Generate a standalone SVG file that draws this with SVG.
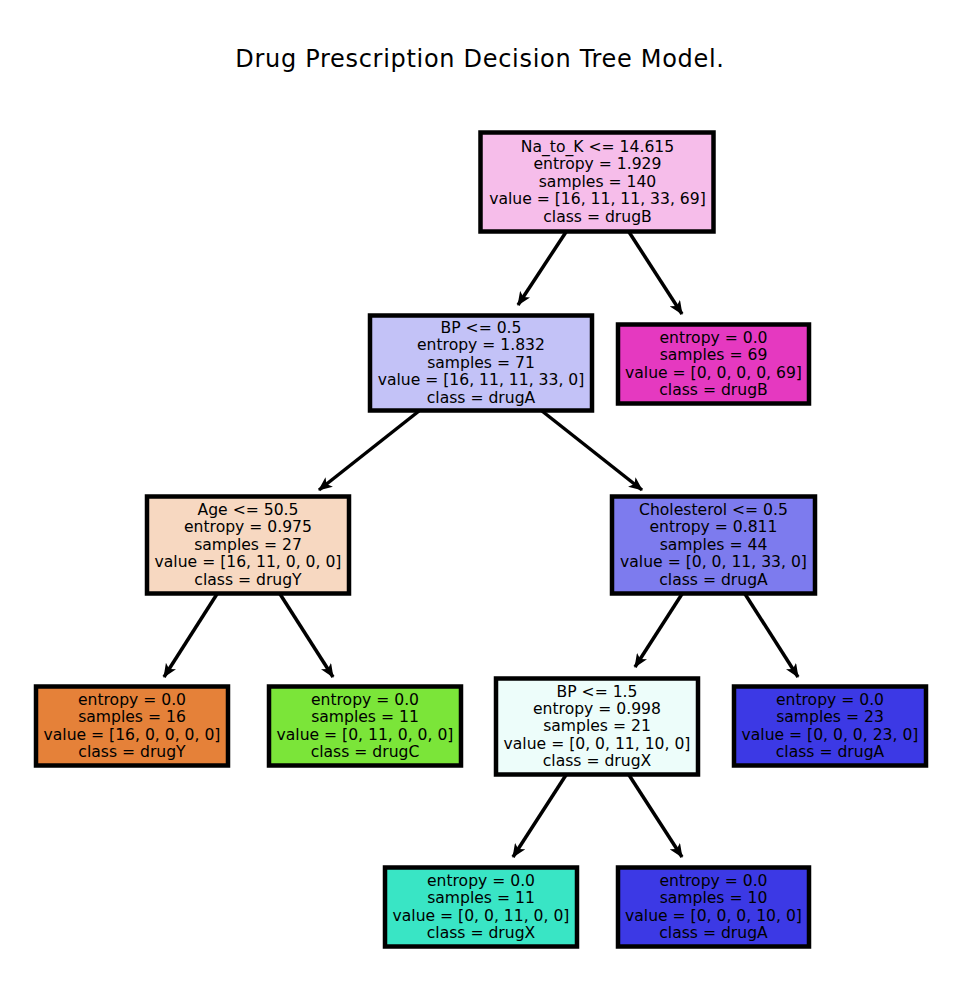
<svg xmlns="http://www.w3.org/2000/svg" width="953" height="988" viewBox="0 0 953 988">
<style>
.box{stroke:#000;stroke-width:4.5}
.t{font-family:"DejaVu Sans",sans-serif;font-size:15.6px;fill:#000;text-anchor:middle}
.title{font-family:"DejaVu Sans",sans-serif;font-size:24px;letter-spacing:0.7px;fill:#000;text-anchor:middle}
.e{stroke:#000;stroke-width:3.5;fill:none;marker-end:url(#ah)}
</style>
<defs>
<marker id="ah" markerUnits="userSpaceOnUse" viewBox="0 0 14 12" refX="13" refY="6" markerWidth="14" markerHeight="12" orient="auto">
<path d="M0,0 L14,6 L0,12 L3.5,6 Z" fill="#000"/>
</marker>
</defs>
<rect width="953" height="988" fill="#fff"/>
<text class="title" x="480" y="67">Drug Prescription Decision Tree Model.</text>
<g id="edges">
<line class="e" x1="566" y1="232" x2="518" y2="305"/>
<line class="e" x1="629" y1="232" x2="682" y2="314"/>
<line class="e" x1="419" y1="411" x2="319" y2="490"/>
<line class="e" x1="542" y1="411" x2="642" y2="490"/>
<line class="e" x1="217" y1="594" x2="164" y2="677"/>
<line class="e" x1="280" y1="594" x2="333" y2="677"/>
<line class="e" x1="682" y1="594" x2="635" y2="667"/>
<line class="e" x1="745" y1="594" x2="798" y2="677"/>
<line class="e" x1="566" y1="775" x2="513" y2="857"/>
<line class="e" x1="629" y1="775" x2="682" y2="857"/>
</g>
<g id="n0">
<rect class="box" x="480.5" y="132.5" width="233" height="99" fill="#f6bdea"/>
<text class="t" x="597.5" y="152">Na_to_K &lt;= 14.615<tspan x="597.5" dy="17.4">entropy = 1.929</tspan><tspan x="597.5" dy="17.4">samples = 140</tspan><tspan x="597.5" dy="17.4">value = [16, 11, 11, 33, 69]</tspan><tspan x="597.5" dy="17.4">class = drugB</tspan></text>
</g>
<g id="n1">
<rect class="box" x="370" y="315.5" width="222" height="95" fill="#c3c2f7"/>
<text class="t" x="481" y="333">BP &lt;= 0.5<tspan x="481" dy="17.4">entropy = 1.832</tspan><tspan x="481" dy="17.4">samples = 71</tspan><tspan x="481" dy="17.4">value = [16, 11, 11, 33, 0]</tspan><tspan x="481" dy="17.4">class = drugA</tspan></text>
</g>
<g id="n2">
<rect class="box" x="618" y="324.5" width="191" height="79" fill="#e539c0"/>
<text class="t" x="713.5" y="342.7">entropy = 0.0<tspan x="713.5" dy="17.4">samples = 69</tspan><tspan x="713.5" dy="17.4">value = [0, 0, 0, 0, 69]</tspan><tspan x="713.5" dy="17.4">class = drugB</tspan></text>
</g>
<g id="n3">
<rect class="box" x="147" y="496.5" width="202" height="97" fill="#f7d8c1"/>
<text class="t" x="248" y="515">Age &lt;= 50.5<tspan x="248" dy="17.4">entropy = 0.975</tspan><tspan x="248" dy="17.4">samples = 27</tspan><tspan x="248" dy="17.4">value = [16, 11, 0, 0, 0]</tspan><tspan x="248" dy="17.4">class = drugY</tspan></text>
</g>
<g id="n4">
<rect class="box" x="612" y="496.5" width="203" height="97" fill="#7d7bee"/>
<text class="t" x="713.5" y="515">Cholesterol &lt;= 0.5<tspan x="713.5" dy="17.4">entropy = 0.811</tspan><tspan x="713.5" dy="17.4">samples = 44</tspan><tspan x="713.5" dy="17.4">value = [0, 0, 11, 33, 0]</tspan><tspan x="713.5" dy="17.4">class = drugA</tspan></text>
</g>
<g id="n5">
<rect class="box" x="36" y="686.5" width="192" height="79" fill="#e58139"/>
<text class="t" x="132" y="704.7">entropy = 0.0<tspan x="132" dy="17.4">samples = 16</tspan><tspan x="132" dy="17.4">value = [16, 0, 0, 0, 0]</tspan><tspan x="132" dy="17.4">class = drugY</tspan></text>
</g>
<g id="n6">
<rect class="box" x="269" y="686.5" width="192" height="79" fill="#7be539"/>
<text class="t" x="365" y="704.7">entropy = 0.0<tspan x="365" dy="17.4">samples = 11</tspan><tspan x="365" dy="17.4">value = [0, 11, 0, 0, 0]</tspan><tspan x="365" dy="17.4">class = drugC</tspan></text>
</g>
<g id="n7">
<rect class="box" x="496" y="678.5" width="202" height="96" fill="#edfdfa"/>
<text class="t" x="597" y="696.5">BP &lt;= 1.5<tspan x="597" dy="17.4">entropy = 0.998</tspan><tspan x="597" dy="17.4">samples = 21</tspan><tspan x="597" dy="17.4">value = [0, 0, 11, 10, 0]</tspan><tspan x="597" dy="17.4">class = drugX</tspan></text>
</g>
<g id="n8">
<rect class="box" x="734" y="686.5" width="192" height="79" fill="#3c39e5"/>
<text class="t" x="830" y="704.7">entropy = 0.0<tspan x="830" dy="17.4">samples = 23</tspan><tspan x="830" dy="17.4">value = [0, 0, 0, 23, 0]</tspan><tspan x="830" dy="17.4">class = drugA</tspan></text>
</g>
<g id="n9">
<rect class="box" x="385" y="867.5" width="192" height="79" fill="#39e5c5"/>
<text class="t" x="481" y="885.7">entropy = 0.0<tspan x="481" dy="17.4">samples = 11</tspan><tspan x="481" dy="17.4">value = [0, 0, 11, 0, 0]</tspan><tspan x="481" dy="17.4">class = drugX</tspan></text>
</g>
<g id="n10">
<rect class="box" x="618" y="867.5" width="191" height="79" fill="#3c39e5"/>
<text class="t" x="713.5" y="885.7">entropy = 0.0<tspan x="713.5" dy="17.4">samples = 10</tspan><tspan x="713.5" dy="17.4">value = [0, 0, 0, 10, 0]</tspan><tspan x="713.5" dy="17.4">class = drugA</tspan></text>
</g>
</svg>
